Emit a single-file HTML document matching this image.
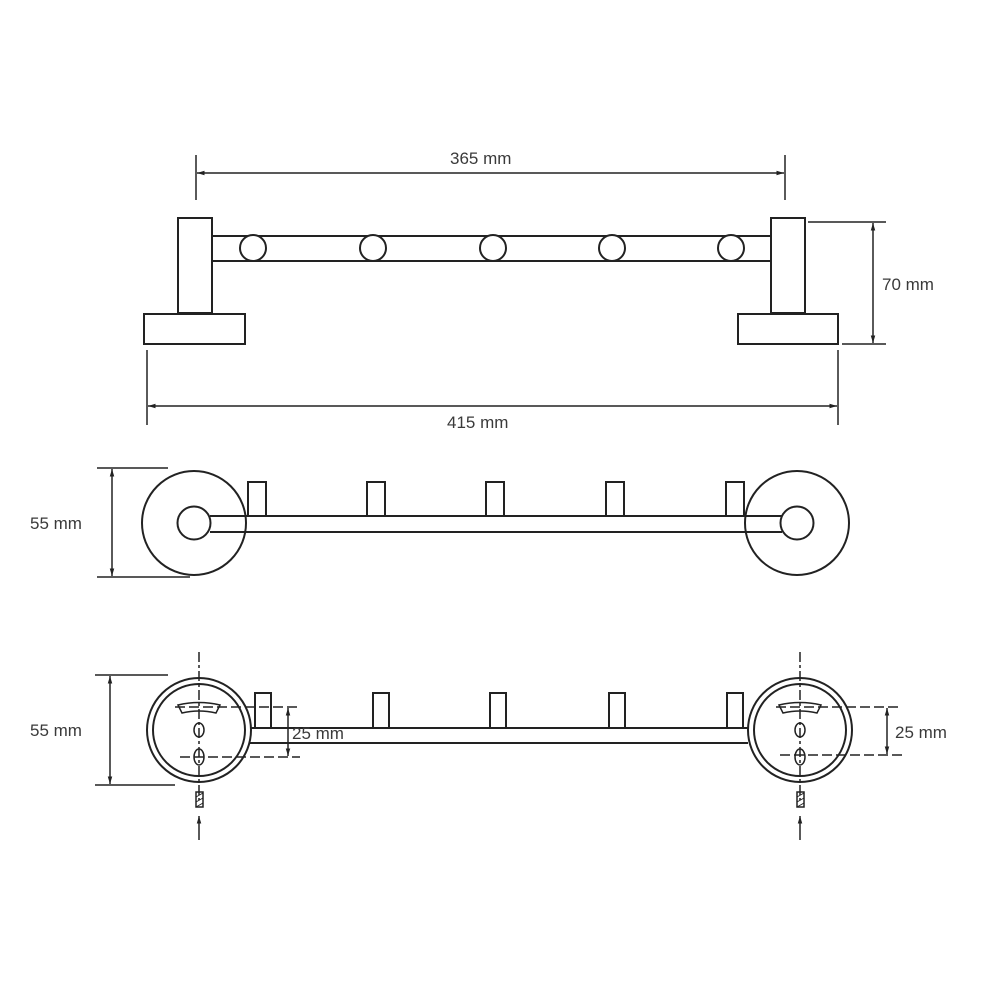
<!DOCTYPE html>
<html><head><meta charset="utf-8"><style>html,body{margin:0;background:#fff}svg{display:block}text{font-family:"Liberation Sans",sans-serif;font-size:17px;fill:#3a3a3a}</style></head><body>
<svg width="1000" height="1000" viewBox="0 0 1000 1000" xmlns="http://www.w3.org/2000/svg">
<defs><marker id="a" viewBox="0 0 10 10" refX="10" refY="5" markerWidth="5" markerHeight="5" orient="auto-start-reverse"><path d="M0,2 L10,5 L0,8z" fill="#222"/></marker></defs>
<g stroke="#222" fill="none" stroke-width="2">
<!-- top view -->
<line x1="196" y1="155" x2="196" y2="200" stroke-width="1.5"/>
<line x1="785" y1="155" x2="785" y2="200" stroke-width="1.5"/>
<line x1="197" y1="173" x2="784" y2="173" stroke-width="1.5" marker-start="url(#a)" marker-end="url(#a)"/>
<line x1="212" y1="236" x2="770" y2="236"/><line x1="212" y1="261" x2="770" y2="261"/>
<g fill="#fff"><circle cx="253" cy="248" r="13"/><circle cx="373" cy="248" r="13"/><circle cx="493" cy="248" r="13"/><circle cx="612" cy="248" r="13"/><circle cx="731" cy="248" r="13"/></g>
<rect x="178" y="218" width="34" height="95" fill="#fff"/><rect x="144" y="314" width="101" height="30" fill="#fff"/>
<rect x="771" y="218" width="34" height="95" fill="#fff"/><rect x="738" y="314" width="100" height="30" fill="#fff"/>
<line x1="808" y1="222" x2="886" y2="222" stroke-width="1.5"/><line x1="842" y1="344" x2="886" y2="344" stroke-width="1.5"/>
<line x1="873" y1="223" x2="873" y2="343" stroke-width="1.5" marker-start="url(#a)" marker-end="url(#a)"/>
<line x1="147" y1="350" x2="147" y2="425" stroke-width="1.5"/><line x1="838" y1="350" x2="838" y2="425" stroke-width="1.5"/>
<line x1="148" y1="406" x2="837" y2="406" stroke-width="1.5" marker-start="url(#a)" marker-end="url(#a)"/>
<!-- middle view -->
<line x1="97" y1="468" x2="168" y2="468" stroke-width="1.5"/><line x1="97" y1="577" x2="190" y2="577" stroke-width="1.5"/>
<line x1="112" y1="469" x2="112" y2="576" stroke-width="1.5" marker-start="url(#a)" marker-end="url(#a)"/>
<circle cx="194" cy="523" r="52"/><circle cx="797" cy="523" r="52"/>
<rect x="248" y="482" width="18" height="34"/><rect x="367" y="482" width="18" height="34"/><rect x="486" y="482" width="18" height="34"/><rect x="606" y="482" width="18" height="34"/><rect x="726" y="482" width="18" height="34"/>
<path d="M210,516 H782 M210,532 H782"/>
<circle cx="194" cy="523" r="16.5" fill="#fff"/><circle cx="797" cy="523" r="16.5" fill="#fff"/>
<!-- bottom view -->
<line x1="95" y1="675" x2="168" y2="675" stroke-width="1.5"/><line x1="95" y1="785" x2="175" y2="785" stroke-width="1.5"/>
<line x1="110" y1="676" x2="110" y2="784" stroke-width="1.5" marker-start="url(#a)" marker-end="url(#a)"/>
<rect x="255" y="693" width="16" height="35"/><rect x="373" y="693" width="16" height="35"/><rect x="490" y="693" width="16" height="35"/><rect x="609" y="693" width="16" height="35"/><rect x="727" y="693" width="16" height="35"/>
<path d="M250,728 H748 M250,743 H748"/>
<g id="m">
<circle cx="199" cy="730" r="52" fill="#fff"/><circle cx="199" cy="730" r="46"/>
<line x1="199" y1="652" x2="199" y2="800" stroke-width="1.5" stroke-dasharray="10,3,3,3"/>
<path d="M178,705 Q199,700 220,705 L216,713 Q199,709 182,713 Z" stroke-width="1.5"/>
<ellipse cx="199" cy="730" rx="5" ry="7" stroke-width="1.5"/><ellipse cx="199" cy="757" rx="5" ry="8" stroke-width="1.5"/>
<rect x="196" y="792" width="7" height="15" stroke-width="1.5"/><path d="M196,797 L203,793 M196,802 L203,798 M196,807 L203,803" stroke-width="1"/>
<line x1="199" y1="840" x2="199" y2="816" stroke-width="1.5" marker-end="url(#a)"/>
</g>
<use href="#m" x="601"/>
<path d="M175,707 H300 M180,757 H300" stroke-width="1.5" stroke-dasharray="10,4"/>
<line x1="288" y1="708" x2="288" y2="756" stroke-width="1.5" marker-start="url(#a)" marker-end="url(#a)"/>
<path d="M776,707 H902 M780,755 H902" stroke-width="1.5" stroke-dasharray="10,4"/>
<line x1="887" y1="708" x2="887" y2="754" stroke-width="1.5" marker-start="url(#a)" marker-end="url(#a)"/>
</g>
<text x="450" y="164">365 mm</text>
<text x="882" y="290">70 mm</text>
<text x="447" y="428">415 mm</text>
<text x="30" y="529">55 mm</text>
<text x="30" y="736">55 mm</text>
<text x="292" y="739">25 mm</text>
<text x="895" y="738">25 mm</text>
</svg>
</body></html>
